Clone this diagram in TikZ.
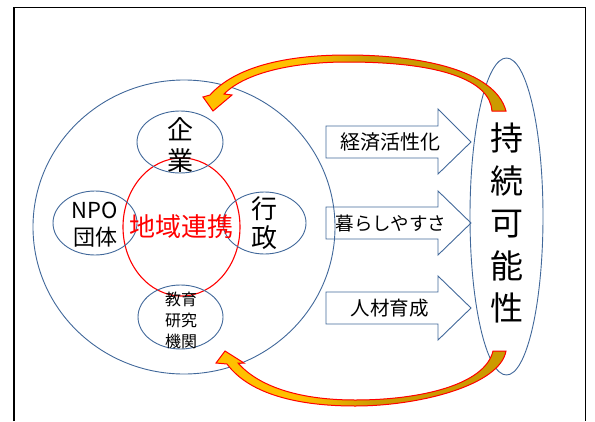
\documentclass[tikz,border=0pt]{standalone}
\usepackage{fontspec}
\setmainfont{Noto Sans CJK JP}
\usetikzlibrary{shapes.geometric}
\definecolor{pblue}{HTML}{41689A}
\definecolor{ayellow}{HTML}{FFC000}
\definecolor{adark}{HTML}{CC9A00}
\begin{document}
\begin{tikzpicture}[x=1pt,y=-1pt,
  blueell/.style={draw=pblue, line width=0.9pt, ellipse, inner sep=0pt},
  redell/.style={draw=red, line width=1.1pt, ellipse, inner sep=0pt},
  blockarrow/.style={draw=pblue, line width=0.9pt, line join=miter},
  lbl/.style={inner sep=0pt, align=center, text=black},
  curvedarrow/.style={draw=red, line width=1pt, line join=miter}
]
\useasboundingbox (0,0) rectangle (595,421);
\draw[line width=1.6pt] (14,421) -- (14,7.5) -- (585.5,7.5) -- (585.5,421);

% circles and ellipses
\node[blueell, minimum width=302pt, minimum height=294pt] (outer) at (184,227) {};
\node[redell, minimum width=117pt, minimum height=138pt] (region) at (181.5,227) {};
\node[blueell, minimum width=86pt, minimum height=62pt] (kigyo) at (180,142) {};
\node[blueell, minimum width=84pt, minimum height=64pt] (npo) at (95,223) {};
\node[blueell, minimum width=83pt, minimum height=62pt] (gyosei) at (264.5,223) {};
\node[blueell, minimum width=85pt, minimum height=64pt] (kyoiku) at (180.5,317) {};
\node[blueell, minimum width=73pt, minimum height=317pt] (sustain) at (506.5,216.5) {};

% labels
\node[lbl, font=\fontsize{26}{31}\selectfont] (kigyoT) at (180,145) {企\\業};
\node[lbl, font=\fontsize{22}{27}\selectfont] (npoT) at (95,224.5) {NPO\\団体};
\node[lbl, font=\fontsize{26}{29}\selectfont] (gyoseiT) at (264,223.5) {行\\政};
\node[lbl, font=\fontsize{16}{21}\selectfont] (kyoikuT) at (181,320) {教育\\研究\\機関};
\node[lbl, text=red, font=\fontsize{26}{30}\selectfont] (regionT) at (181.5,227) {地域連携};
\node[lbl, font=\fontsize{33}{42.5}\selectfont] (sustainT) at (507,223) {持\\続\\可\\能\\性};

% block arrows
\draw[blockarrow] (326,126) -- (438,126) -- (438,109) -- (471,142) -- (438,174) -- (438,158) -- (326,158) -- cycle;
\draw[blockarrow] (326,207) -- (438,207) -- (438,191) -- (471,223) -- (438,255) -- (438,239) -- (326,239) -- cycle;
\draw[blockarrow] (326,292) -- (438,292) -- (438,276) -- (471,308) -- (438,340) -- (438,324) -- (326,324) -- cycle;
\node[lbl, font=\fontsize{20}{24}\selectfont] (econT) at (390,142) {経済活性化};
\node[lbl, font=\fontsize{18.5}{22}\selectfont] (lifeT) at (391,223) {暮らしやすさ};
\node[lbl, font=\fontsize{19.5}{23}\selectfont] (hrT) at (389.5,308) {人材育成};

% curved arrows
\def\toparrowpath{(492,111) .. controls (490,80) and (440,62) .. (347,62) .. controls (295,62) and (246,72) .. (224,94) -- (232,95) -- (213,111) -- (203,97) -- (210,95) .. controls (235,67) and (285,55) .. (347,55) .. controls (420,55) and (495,70) .. (506,111) -- cycle}
\def\botarrowpath{(493,351) .. controls (485,385) and (420,400) .. (355,400) .. controls (305,400) and (261,389) .. (238,363) -- (244,363) -- (225,351) -- (216,363) -- (227,364) .. controls (250,395) and (300,406) .. (355,406) .. controls (420,406) and (500,385) .. (506,351) -- cycle}
\fill[ayellow] \toparrowpath;
\begin{scope}
  \clip \toparrowpath;
  \shade[left color=ayellow, right color=adark] (300,0) rectangle (370,421);
  \fill[adark] (370,0) rectangle (595,421);
\end{scope}
\draw[curvedarrow] \toparrowpath;
\fill[ayellow] \botarrowpath;
\begin{scope}
  \clip \botarrowpath;
  \shade[left color=ayellow, right color=adark] (300,0) rectangle (375,421);
  \fill[adark] (375,0) rectangle (595,421);
\end{scope}
\draw[curvedarrow] \botarrowpath;
\end{tikzpicture}
\end{document}
